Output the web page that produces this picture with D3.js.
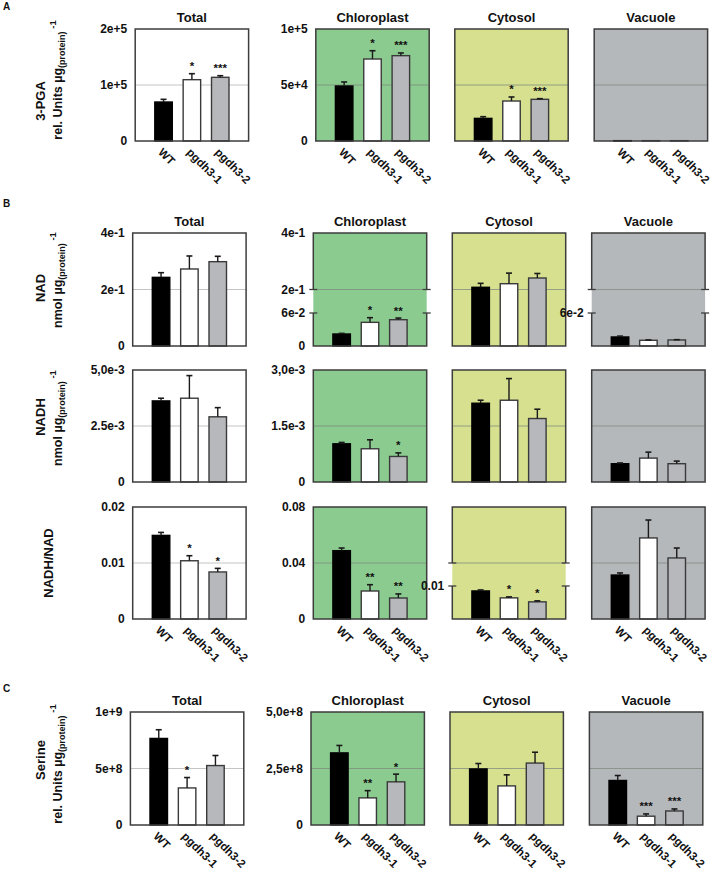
<!DOCTYPE html>
<html><head><meta charset="utf-8">
<script src="https://cdn.jsdelivr.net/npm/d3@7"></script>
<style>
body{margin:0;background:#fff}
svg{display:block}
text{font-family:"Liberation Sans",Arial,Helvetica,sans-serif;font-weight:bold;fill:#111}
</style>
</head><body>
<svg id="chart" width="714" height="873"></svg>
<script>
// ---------------- DATA ----------------
const genotypes = ["WT", "pgdh3-1", "pgdh3-2"];
const compartments = ["Total", "Chloroplast", "Cytosol", "Vacuole"];

// 3-PGA (rel. Units per µg protein) — rows: Total, Chloroplast, Cytosol, Vacuole
const pgaMean = [[69600, 109500, 113700], [49100, 73200, 76200], [20200, 35700, 37200], [300, 300, 300]];
const pgaErr  = [[4800, 10700, 2900], [3600, 7400, 2400], [1500, 3600, 600], [0, 0, 0]];
const pgaSig  = [["", "*", "***"], ["", "*", "***"], ["", "*", "***"], ["", "", ""]];
const pgaMax  = [2e5, 1e5, 1e5, 1e5];
const pgaBreak = [null, null, null, null];
const pgaTickLabels = [["0", "1e+5", "2e+5"], ["0", "5e+4", "1e+5"], null, null];

// NAD (nmol per µg protein)
const nadMean = [[0.243, 0.2726, 0.2985], [0.0218, 0.043, 0.0478], [0.2078, 0.2205, 0.2407], [0.0164, 0.0104, 0.011]];
const nadErr  = [[0.0165, 0.046, 0.019], [0.0012, 0.0085, 0.003], [0.014, 0.0375, 0.016], [0.0016, 0.0006, 0.0005]];
const nadSig  = [["", "", ""], ["", "*", "**"], ["", "", ""], ["", "", ""]];
const nadMax  = [0.4, 0.4, 0.4, 0.4];
const nadBreak = [null, [0.06, 0.2], null, [0.06, 0.2]];
const nadTickLabels = [["0", "2e-1", "4e-1"], ["0", "6e-2", "2e-1", "4e-1"], null, ["", "6e-2", "", ""]];

// NADH (nmol per µg protein)
const nadhMean = [[3.62e-3, 3.74e-3, 2.91e-3], [1.023e-3, 0.89e-3, 0.684e-3], [2.11e-3, 2.19e-3, 1.70e-3], [0.49e-3, 0.64e-3, 0.49e-3]];
const nadhErr  = [[0.12e-3, 1.01e-3, 0.41e-3], [0.037e-3, 0.24e-3, 0.096e-3], [0.08e-3, 0.58e-3, 0.25e-3], [0.02e-3, 0.16e-3, 0.07e-3]];
const nadhSig  = [["", "", ""], ["", "", "*"], ["", "", ""], ["", "", ""]];
const nadhMax  = [5e-3, 3e-3, 3e-3, 3e-3];
const nadhBreak = [null, null, null, null];
const nadhTickLabels = [["0", "2.5e-3", "5,0e-3"], ["0", "1.5e-3", "3,0e-3"], null, null];

// NADH/NAD ratio
const ratioMean = [[0.01493, 0.0104, 0.0084], [0.0488, 0.020, 0.015], [0.0085, 0.0064, 0.0052], [0.0314, 0.0579, 0.0436]];
const ratioErr  = [[0.00053, 0.0009, 0.00064], [0.0019, 0.0045, 0.0029], [0.0003, 0.0003, 0.0003], [0.0015, 0.0128, 0.0071]];
const ratioSig  = [["", "*", "*"], ["", "**", "**"], ["", "*", "*"], ["", "", ""]];
const ratioMax  = [0.02, 0.08, 0.08, 0.08];
const ratioBreak = [null, null, [0.01, 0.04], null];
const ratioTickLabels = [["0", "0.01", "0.02"], ["0", "0.04", "0.08"], ["", "0.01", "", ""], null];

// Serine (rel. Units per µg protein)
const serMean = [[7.66e8, 3.28e8, 5.26e8], [3.19e8, 1.2e8, 1.91e8], [2.48e8, 1.73e8, 2.74e8], [1.97e8, 0.39e8, 0.62e8]];
const serErr  = [[0.77e8, 0.92e8, 0.89e8], [0.33e8, 0.32e8, 0.34e8], [0.24e8, 0.49e8, 0.48e8], [0.22e8, 0.10e8, 0.09e8]];
const serSig  = [["", "*", ""], ["", "**", "*"], ["", "", ""], ["", "***", "***"]];
const serMax  = [1e9, 5e8, 5e8, 5e8];
const serBreak = [null, null, null, null];
const serTickLabels = [["0", "5e+8", "1e+9"], ["0", "2,5e+8", "5,0e+8"], null, null];

// ---------------- LAYOUT / STYLE ----------------
const svg = d3.select("#chart");
const PW = 113.4;
const colLeft = [132.7, 313.3, 452.3, 591.7];
const panelFill = ["#ffffff", "#8bcb8f", "#d6e08f", "#b5b8bb"];
const barFill = ["#000000", "#ffffff", "#b6b8bb"];
const BW = 17.5;

const rows = [
  {mean: pgaMean, err: pgaErr, sig: pgaSig, max: pgaMax, brk: pgaBreak, labels: pgaTickLabels,
   top: 29, bottom: 141, dx: 2.5, title: true, xlab: true,
   y1: {text: "3-PGA", x: 45, y: 101}, y2: {main: "rel. Units µg", x: 62, y: 80}},
  {mean: nadMean, err: nadErr, sig: nadSig, max: nadMax, brk: nadBreak, labels: nadTickLabels,
   top: 233, bottom: 346, dx: 0, title: true, xlab: false,
   y1: {text: "NAD", x: 45, y: 288}, y2: {main: "nmol µg", x: 62, y: 280}},
  {mean: nadhMean, err: nadhErr, sig: nadhSig, max: nadhMax, brk: nadhBreak, labels: nadhTickLabels,
   top: 370, bottom: 482, dx: 0, title: false, xlab: false,
   y1: {text: "NADH", x: 45, y: 417}, y2: {main: "nmol µg", x: 62, y: 418}},
  {mean: ratioMean, err: ratioErr, sig: ratioSig, max: ratioMax, brk: ratioBreak, labels: ratioTickLabels,
   top: 507, bottom: 619, dx: 0, title: false, xlab: true,
   y1: {text: "NADH/NAD", x: 53, y: 563}, y2: null},
  {mean: serMean, err: serErr, sig: serSig, max: serMax, brk: serBreak, labels: serTickLabels,
   top: 712, bottom: 825, dx: -2.3, title: true, xlab: true,
   y1: {text: "Serine", x: 45, y: 760}, y2: {main: "rel. Units µg", x: 62, y: 764}}
];

// panel letters
[["A", 3, 10], ["B", 3, 207], ["C", 3, 692]].forEach(([t, x, y]) => {
  svg.append("text").attr("x", x).attr("y", y).attr("font-size", 10).text(t);
});

rows.forEach(row => {
  // y-axis titles
  svg.append("text")
    .attr("transform", `translate(${row.y1.x},${row.y1.y}) rotate(-90)`)
    .attr("text-anchor", "middle").attr("font-size", 13).text(row.y1.text);
  if (row.y2) {
    const t = svg.append("text")
      .attr("transform", `translate(${row.y2.x},${row.y2.y}) rotate(-90)`)
      .attr("text-anchor", "middle").attr("font-size", 12.5);
    t.append("tspan").text(row.y2.main);
    t.append("tspan").attr("font-size", 9).attr("dy", 3).text("(protein)");
    t.append("tspan").attr("font-size", 9.5).attr("dy", -9).text(" -1");
  }

  compartments.forEach((comp, c) => {
    const left = colLeft[c] + row.dx, right = left + PW;
    const top = row.top, bottom = row.bottom;
    const max = row.max[c], brk = row.brk[c];
    const x = d3.scalePoint().domain(genotypes).range([left, right]).padding(1);
    const dom = brk ? [0, brk[0], brk[1], max] : [0, max];
    const rng = brk ? [bottom, bottom - 33, (top + bottom) / 2, top] : [bottom, top];
    const y = d3.scaleLinear().domain(dom).range(rng);
    const g = svg.append("g");

    g.append("rect").attr("x", left).attr("y", top).attr("width", PW).attr("height", bottom - top)
      .attr("fill", panelFill[c]);
    // gridline at mid value
    g.append("line").attr("x1", left).attr("x2", right)
      .attr("y1", y(max / 2)).attr("y2", y(max / 2))
      .attr("stroke", c === 0 ? "#c4c4c4" : "#7f8a7f").attr("stroke-opacity", c === 0 ? 1 : 0.75)
      .attr("stroke-width", 1);

    const vals = genotypes.map((gt, i) => ({g: gt, i, v: row.mean[c][i], e: row.err[c][i], s: row.sig[c][i]}));
    // bars
    g.selectAll("rect.bar").data(vals).enter().append("rect").attr("class", "bar")
      .attr("x", d => x(d.g) - BW / 2).attr("y", d => y(d.v))
      .attr("width", BW).attr("height", d => Math.max(0.3, bottom - y(d.v)))
      .attr("fill", d => barFill[d.i])
      .attr("stroke", d => d.i === 0 ? "#000" : "#3a3a3a").attr("stroke-width", 1.4);
    // error bars
    vals.filter(d => d.e > 0).forEach(d => {
      const cx = x(d.g), y0 = y(d.v), y1 = y(d.v + d.e);
      g.append("line").attr("x1", cx).attr("x2", cx).attr("y1", y0).attr("y2", y1)
        .attr("stroke", "#1a1a1a").attr("stroke-width", 1.4);
      g.append("line").attr("x1", cx - 3).attr("x2", cx + 3).attr("y1", y1).attr("y2", y1)
        .attr("stroke", "#1a1a1a").attr("stroke-width", 1.6);
    });
    // significance stars
    vals.filter(d => d.s).forEach(d => {
      g.append("text").attr("x", x(d.g)).attr("y", y(d.v + d.e) - 3.5)
        .attr("text-anchor", "middle").attr("font-size", 11.5).text(d.s);
    });

    // border
    const bc = "#3d3d3d", bwid = 1.5;
    if (brk) {
      const yb1 = y(brk[1]), yb0 = y(brk[0]);
      const p = d3.path();
      p.moveTo(left, yb1); p.lineTo(left, top); p.lineTo(right, top); p.lineTo(right, yb1);
      p.moveTo(left, yb0); p.lineTo(left, bottom); p.lineTo(right, bottom); p.lineTo(right, yb0);
      g.append("path").attr("d", p.toString()).attr("fill", "none").attr("stroke", bc).attr("stroke-width", bwid);
      [yb1, yb0].forEach(yy => {
        [left, right].forEach(xx => {
          g.append("line").attr("x1", xx - 4).attr("x2", xx + 4).attr("y1", yy).attr("y2", yy)
            .attr("stroke", bc).attr("stroke-width", 1.3);
        });
      });
    } else {
      g.append("rect").attr("x", left).attr("y", top).attr("width", PW).attr("height", bottom - top)
        .attr("fill", "none").attr("stroke", bc).attr("stroke-width", bwid);
    }

    // tick labels
    const labs = row.labels[c];
    if (labs) {
      const tv = brk ? [0, brk[0], brk[1], max] : [0, max / 2, max];
      tv.forEach((v, k) => {
        if (!labs[k]) return;
        g.append("text").attr("x", left - 8).attr("y", y(v)).attr("dy", "0.36em")
          .attr("text-anchor", "end").attr("font-size", 12).text(labs[k]);
      });
    }

    // title
    if (row.title) {
      g.append("text").attr("x", (left + right) / 2).attr("y", top - 7)
        .attr("text-anchor", "middle").attr("font-size", 13).text(comp);
    }
    // x labels
    if (row.xlab) {
      genotypes.forEach(gt => {
        g.append("text").attr("transform", `translate(${x(gt) - 6},${bottom + 12}) rotate(45)`)
          .attr("font-size", 11.5).text(gt);
      });
    }
  });
});
</script>
</body></html>
